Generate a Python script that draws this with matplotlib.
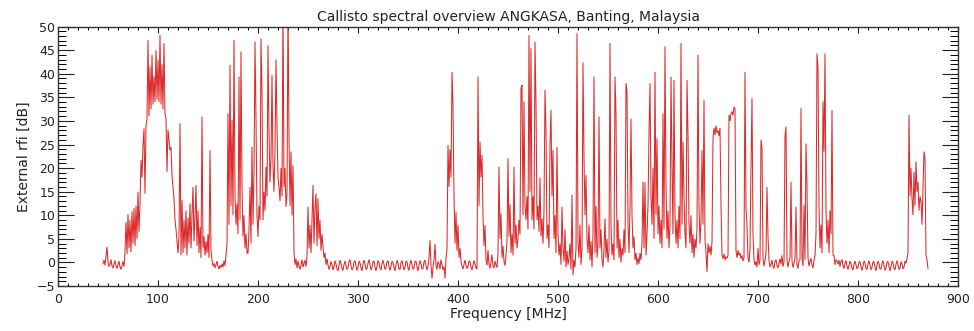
import numpy as np
import matplotlib
matplotlib.use("Agg")
import matplotlib.pyplot as plt
from matplotlib.ticker import MultipleLocator

# ---- data: received level (dB) per 1 MHz channel ----
channel_step_mhz = 1.0

band_045_start = 45
band_045 = [-0.3, 0.5, -0.6, 1.2, 3.3,
            0.2, -0.9, -0.4, 0.6, -0.8, -1.2, -0.3, 0.4, -0.7, -1.3,
            -0.5, 0.3, -1.0, -1.5, -0.6, 0.2, -0.9, 2.5, 8.5, 1.8,
            10.2, 3.0, 9.0, 2.2, 10.8, 4.0, 11.5, 3.5, 12.0, 5.0,
            15.0, 6.5, 12.5, 21.7, 18.0, 25.0, 28.4, 14.6, 29.0, 30.5,
            47.2, 31.0, 41.5, 32.5, 44.0, 33.5, 39.5, 34.0, 45.0, 34.5,
            43.0, 34.0, 48.2, 33.5, 42.0, 32.5, 46.5, 31.5, 30.5, 19.2,
            28.1, 26.0, 23.8, 24.5, 18.5, 16.0, 13.5, 9.0, 7.0, 4.4,
            2.0, 5.5, 29.5, 1.5, 13.2, 2.0, 9.0, 3.0, 11.0, 1.5,
            9.5, 4.0, 12.5, 3.0, 10.0, 16.0, 4.5, 9.5, 16.4, 3.5,
            11.0, 2.0, 7.5, 1.0, 30.9]

band_145_start = 145
band_145 = [3.0, 5.5, 1.5, 4.5, 2.0,
            6.0, 1.0, 23.8, 2.5, 0.5, -0.8, -0.2, -1.2, -0.5, 0.3,
            -0.9, -1.4, -0.6, -1.1, -0.3, -1.0, 0.4, -0.7, 1.5, 4.0,
            31.6, 8.0, 41.9, 12.0, 30.2, 10.0, 47.2, 14.0, 8.0, 12.5,
            6.0, 39.4, 9.0, 44.7, 16.0, 5.5, 10.0, 3.0, 6.1, 2.0,
            1.9, 7.0, 16.0, 4.0, 24.5, 8.0, 19.5, 46.8, 30.2, 10.0,
            5.4, 12.0, 9.0, 47.5, 35.8, 9.0, 15.0, 11.0, 20.3, 14.0,
            46.0, 28.0, 17.0, 22.0, 39.7, 20.3, 15.0, 24.0, 43.0, 29.0,
            18.0, 16.0, 13.0, 20.0, 14.0, 55.0, 16.0, 20.0, 11.8, 14.6,
            55.0, 26.7, 12.0, 23.5, 10.0, 20.6, 2.2, -0.5, 0.8, -1.2,
            0.3, -0.8, -1.5, -0.4, 0.6]

band_245_start = 245
band_245 = [-1.0, -0.2, 0.5, -0.9, 1.2,
            11.8, 3.0, 7.9, 2.0, 9.0, 16.4, 4.0, 11.5, 14.6, 3.5,
            13.6, 5.0, 9.0, 2.5, 6.0, 3.3, 1.0, 2.0, -0.5, 0.8,
            -0.6, -1.5, -0.9, 0.2, -0.4, -1.6, -1.0, 0.4, -0.3, -1.4,
            -1.8, -0.6, 0.5, -0.2, -1.3, -1.7, -0.5, 0.3, -0.6, -1.5,
            -1.1, 0.2, 0.6, -0.7, -1.6, -1.2, 0.1, 0.4, -0.8, -1.7,
            -1.0, 0.3, -0.1, -1.2, -1.8, -0.4, 0.5, -0.3, -1.5, -1.3,
            -0.2, 0.6, -0.5, -1.6, -1.1, 0.2, 0.3, -0.9, -1.8, -0.7,
            0.4, -0.1, -1.3, -1.6, -0.3, 0.5, -0.4, -1.5, -1.2, 0.1,
            0.4, -0.8, -1.7, -0.9, 0.3, 0.0, -1.1, -1.8, -0.5, 0.5,
            -0.2, -1.4, -1.5, -0.1, 0.4]

band_345_start = 345
band_345 = [-0.7, -1.6, -1.0, 0.3, 0.1,
            -1.2, -1.7, -0.3, 0.5, -0.5, -1.5, -1.1, 0.2, 0.3, -0.9,
            -1.8, -0.6, 0.4, -0.2, -1.4, -1.3, 0.1, 0.5, -0.7, -1.6,
            -0.8, 1.0, 4.7, -0.5, -3.4, -1.0, 0.5, 3.9, -0.6, -1.5,
            0.2, -0.3, -1.4, 0.6, -0.4, -1.6, -0.9, -3.4, 0.8, 3.0,
            24.9, 16.0, 24.0, 18.0, 40.4, 33.0, 14.0, 4.0, 10.7, 2.5,
            7.9, 1.0, 3.0, 0.2, -0.8, -1.4, -0.4, 0.5, -0.6, -1.3,
            -0.9, 0.3, 0.2, -1.0, -1.6, -0.5, 0.4, -0.3, -1.2, -1.4,
            39.4, 12.0, 25.6, 18.0, 22.8, 10.0, 3.5, 7.9, 0.5, -0.6,
            2.6, -0.4, -1.3, 0.2, 1.7, -0.8, -1.2, 0.3, -0.5, -1.1,
            2.0, 20.3, 5.0, 10.4, 1.0]

band_445_start = 445
band_445 = [3.5, 0.2, -0.7, 1.5, 4.5,
            22.1, 5.5, 12.3, 2.0, 6.0, 1.5, 20.3, 4.0, 8.0, 3.0,
            5.0, 9.0, 6.0, 36.9, 37.6, 10.0, 34.1, 12.0, 9.0, 14.0,
            7.0, 48.2, 15.0, 45.4, 9.0, 14.0, 7.0, 46.8, 33.7, 9.0,
            12.0, 6.5, 18.0, 5.5, 9.3, 4.0, 11.0, 36.6, 28.0, 5.0,
            8.0, 3.0, 25.2, 32.3, 14.0, 23.8, 5.0, 10.0, 2.0, 24.5,
            6.0, 1.5, 4.0, -0.5, 11.8, 3.0, 0.2, 7.0, -1.0, 2.5,
            -0.5, 1.0, 4.0, -1.5, 14.3, -2.7, 0.5, -1.0, 3.0, 48.6,
            4.0, 1.0, 8.0, -0.5, 3.0, 42.4, 22.0, 10.0, 18.5, 5.0,
            2.0, 8.0, 0.5, 4.5, -1.0, 6.0, 39.4, 2.0, 12.0, 1.0,
            4.0, 30.9, 3.0, 7.0, 0.5]

band_545_start = 545
band_545 = [-1.0, 3.0, 9.3, 1.0, 5.0,
            0.0, 2.5, 46.5, 8.0, 1.5, 4.0, 0.5, 39.4, 31.3, 3.0,
            9.0, 1.0, 5.0, 0.0, 3.0, 1.5, 7.0, 2.0, 38.0, 36.0,
            8.0, 2.0, 12.0, 30.5, 10.0, 3.0, 5.5, 0.5, 2.0, -0.5,
            1.0, -0.3, 2.0, 0.5, 4.0, 17.1, 3.0, 17.0, 1.5, 6.0,
            12.0, 27.4, 38.0, 14.0, 8.0, 20.0, 5.0, 40.4, 10.0, 26.3,
            6.0, 12.0, 4.0, 9.0, 3.0, 31.6, 7.0, 45.8, 16.0, 5.0,
            11.0, 3.0, 8.0, 39.4, 20.6, 6.0, 38.7, 10.0, 4.0, 9.0,
            3.0, 12.0, 5.0, 46.5, 8.0, 25.6, 14.0, 6.0, 3.0, 38.7,
            27.0, 8.0, 4.0, 10.0, 2.0, 6.0, 1.0, 5.0, 3.0, 7.0,
            44.0, 12.0, 4.0, 9.0, 23.8]

band_645_start = 645
band_645 = [8.0, 34.4, 5.0, 2.0, -2.0,
            4.0, 2.0, 3.5, 1.5, 4.4, 26.3, 28.5, 27.0, 29.0, 27.5,
            28.0, 26.8, 28.5, 12.2, 1.5, 0.8, 1.8, 0.5, 1.2, 0.9,
            1.5, 31.3, 30.0, 31.5, 32.0, 31.2, 33.0, 32.5, 2.5, 1.0,
            2.6, 1.5, 2.0, 0.8, 1.5, 0.3, 1.0, 40.4, 11.4, 8.0,
            1.0, 0.0, 3.0, 20.3, 34.8, 6.0, 0.5, -0.6, 0.2, -1.0,
            3.0, -0.5, 0.4, 26.0, 24.2, 1.0, -0.8, 0.3, 2.0, 16.0,
            5.4, 0.5, -1.0, -0.4, 0.5, -0.8, -1.3, 0.2, 0.6, -0.6,
            -1.2, -0.2, 0.8, -0.4, 1.5, -0.9, 0.0, 26.7, 28.8, 0.5,
            -1.0, 0.2, 1.0, 17.1, 0.3, -1.1, -0.2, 0.8, 11.8, -0.4,
            -1.3, 0.4, 0.6, 32.7, 1.0]

band_745_start = 745
band_745 = [-0.8, 12.2, 0.5, 25.2, 16.4,
            1.0, -0.8, 0.2, 0.9, -0.5, -1.2, 0.4, 1.5, 6.0, 44.3,
            41.2, 12.0, 3.0, 8.0, 2.0, 34.1, 23.5, 44.3, 11.0, 4.0,
            9.0, 2.0, 11.0, 6.0, 32.3, 1.5, 1.5, -0.5, 0.6, 0.3,
            -0.4, 0.5, -0.9, 0.2, 0.6, -0.7, -1.3, -0.1, 0.4, -0.8,
            -1.5, -0.6, 0.3, -0.2, -1.2, -1.6, -0.4, 0.3, -0.5, -1.4,
            -1.1, 0.1, 0.2, -0.9, -1.7, -0.8, 0.3, -0.1, -1.3, -1.5,
            -0.3, 0.4, -0.6, -1.6, -1.0, 0.2, 0.1, -1.0, -1.8, -0.6,
            0.3, -0.3, -1.4, -1.4, -0.2, 0.4, -0.7, -1.7, -1.1, 0.1,
            0.2, -0.9, -1.8, -0.7, 0.3, -0.1, -1.2, -1.6, -0.4, 0.4,
            -0.5, -1.5, -1.2, 0.2, -0.3]

band_845_start = 845
band_845 = [-1.4, -1.0, 0.3, -0.2, 0.8, 2.0, 31.3, 14.0, 20.0, 13.6,
            10.0, 19.2, 12.0, 21.4, 15.0, 17.1, 11.0, 14.0, 12.9, 8.0,
            16.0, 23.5, 22.0, 1.5, 0.5, -1.3]

bands = [(band_045_start, band_045), (band_145_start, band_145),
         (band_245_start, band_245), (band_345_start, band_345),
         (band_445_start, band_445), (band_545_start, band_545),
         (band_645_start, band_645), (band_745_start, band_745),
         (band_845_start, band_845)]

title_text = "Callisto spectral overview ANGKASA, Banting, Malaysia"
x_label = "Frequency [MHz]"
y_label = "External rfi [dB]"

# ---- build series ----
freq = np.concatenate([start + channel_step_mhz * np.arange(len(v)) for start, v in bands])
level = np.concatenate([np.asarray(v, dtype=float) for _, v in bands])

# ---- figure ----
W, H, DPI = 974, 331, 100
fig = plt.figure(figsize=(W / DPI, H / DPI), dpi=DPI)
fig.patch.set_facecolor("white")
ax = fig.add_axes([58 / W, 45 / H, 900 / W, 259.4 / H])

ax.plot(freq, level, color="#de2a2a", lw=0.75, solid_joinstyle="miter")

ax.set_xlim(0, 900)
ax.set_ylim(-5, 50)
ax.xaxis.set_major_locator(MultipleLocator(100))
ax.xaxis.set_minor_locator(MultipleLocator(10))
ax.yaxis.set_major_locator(MultipleLocator(5))
ax.yaxis.set_minor_locator(MultipleLocator(1))

fam = ["DejaVu Sans"]
px = 0.72  # points per pixel
ax.tick_params(axis="x", which="major", direction="in", top=True, bottom=True,
               length=6 * px, width=0.8, pad=5, labelsize=9, colors="#222222")
ax.tick_params(axis="x", which="minor", direction="in", top=True, bottom=True,
               length=3 * px, width=0.7)
ax.tick_params(axis="y", which="major", direction="in", left=True, right=True,
               length=16 * px, width=0.8, pad=2, labelsize=9, colors="#222222")
ax.tick_params(axis="y", which="minor", direction="in", left=True, right=True,
               length=8 * px, width=0.7)
for lab in ax.get_xticklabels() + ax.get_yticklabels():
    lab.set_family(fam)

for s in ax.spines.values():
    s.set_color("#333333")
    s.set_linewidth(1.0)

ax.set_title(title_text, fontsize=10, family=fam, color="#222222", pad=4)
ax.set_xlabel(x_label, fontsize=10, family=fam, color="#222222", labelpad=1)
ax.set_ylabel(y_label, fontsize=10, family=fam, color="#222222", labelpad=4)

fig.savefig("out.png", dpi=DPI, facecolor="white")
